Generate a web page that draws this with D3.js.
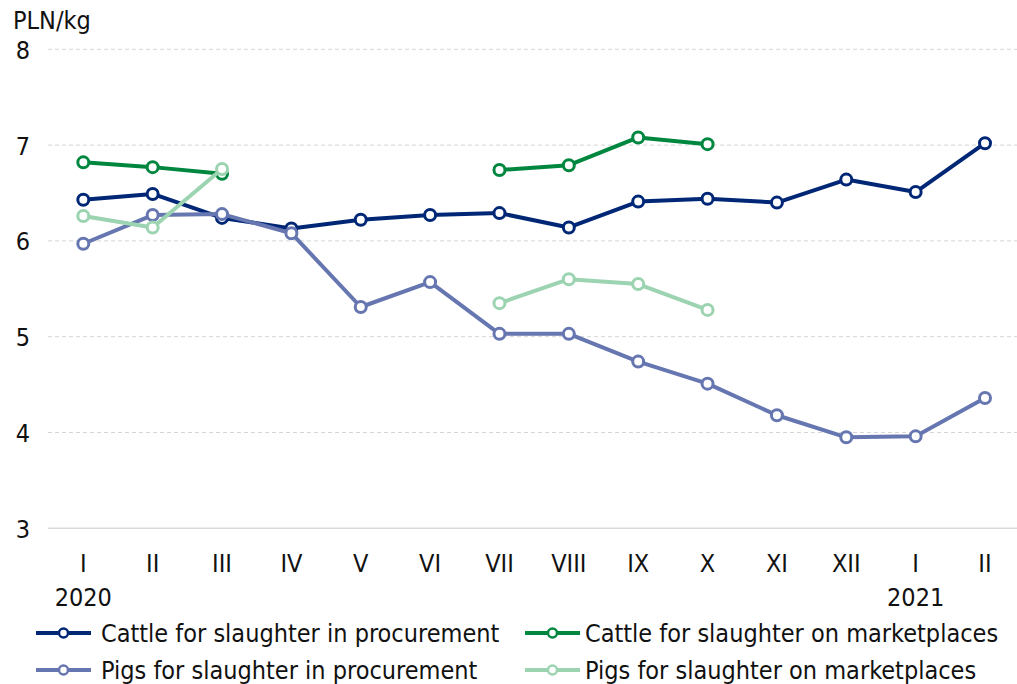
<!DOCTYPE html>
<html>
<head>
<meta charset="utf-8">
<script src="https://cdn.jsdelivr.net/npm/d3@7"></script>
<style>
  html, body { margin: 0; padding: 0; background: #fff; }
  svg text { font-family: "DejaVu Sans Condensed", "Liberation Sans Narrow", sans-serif; fill: #111; }
</style>
</head>
<body>
<svg id="chart" width="1017" height="684"></svg>
<script>
const months = ["I","II","III","IV","V","VI","VII","VIII","IX","X","XI","XII","I","II"];
const yearLabels = [{idx: 0, text: "2020"}, {idx: 12, text: "2021"}];
const yTicks = [3, 4, 5, 6, 7, 8];
const unitLabel = "PLN/kg";

const seriesNames = [
  "Cattle for slaughter in procurement",
  "Cattle for slaughter on marketplaces",
  "Pigs for slaughter in procurement",
  "Pigs for slaughter on marketplaces"
];
const cattleProcurement = [6.43, 6.49, 6.24, 6.13, 6.22, 6.27, 6.29, 6.14, 6.41, 6.44, 6.40, 6.64, 6.51, 7.02];
const cattleMarketplaces = [6.82, 6.77, 6.70, null, null, null, 6.74, 6.79, 7.08, 7.01, null, null, null, null];
const pigsProcurement = [5.97, 6.27, 6.28, 6.08, 5.31, 5.57, 5.03, 5.03, 4.74, 4.51, 4.18, 3.95, 3.96, 4.36];
const pigsMarketplaces = [6.26, 6.14, 6.75, null, null, null, 5.35, 5.60, 5.55, 5.28, null, null, null, null];
const colors = ["#002776", "#00873F", "#6676B0", "#9CD3B0"];

const allSeries = [cattleProcurement, cattleMarketplaces, pigsProcurement, pigsMarketplaces];

const svg = d3.select("#chart");
const idx = d3.range(months.length);
const x = d3.scalePoint().domain(idx).range([83.3, 985]);
const y = d3.scaleLinear().domain([3, 8]).range([528.3, 49.3]);
const plotLeft = 48, plotRight = 1017;
const fs = 25;

// gridlines
svg.append("g").selectAll("line").data(yTicks.filter(t => t !== 3)).join("line")
  .attr("x1", plotLeft).attr("x2", plotRight)
  .attr("y1", d => y(d)).attr("y2", d => y(d))
  .attr("stroke", "#d6d6d6").attr("stroke-width", 1).attr("stroke-dasharray", "4,3");
// base axis
svg.append("line").attr("x1", plotLeft).attr("x2", plotRight)
  .attr("y1", y(3)).attr("y2", y(3)).attr("stroke", "#d9d9d9").attr("stroke-width", 1.5);

// y tick labels
svg.append("g").selectAll("text").data(yTicks).join("text")
  .attr("x", 30).attr("y", d => y(d)).attr("dy", "0.38em")
  .attr("text-anchor", "end").attr("font-size", fs).text(d => d);
svg.append("text").attr("x", 13).attr("y", 29).attr("font-size", fs).text(unitLabel);

// x labels
svg.append("g").selectAll("text").data(idx).join("text")
  .attr("x", d => x(d)).attr("y", 572).attr("text-anchor", "middle")
  .attr("font-size", fs).text(d => months[d]);
svg.append("g").selectAll("text").data(yearLabels).join("text")
  .attr("x", d => x(d.idx)).attr("y", 606).attr("text-anchor", "middle")
  .attr("font-size", fs).text(d => d.text);

// lines
const line = d3.line().defined(d => d.v !== null).x(d => x(d.i)).y(d => y(d.v));
allSeries.forEach((s, k) => {
  const pts = s.map((v, i) => ({i, v}));
  const g = svg.append("g");
  g.append("path").datum(pts).attr("d", line).attr("fill", "none")
    .attr("stroke", colors[k]).attr("stroke-width", 4).attr("stroke-linejoin", "round");
  g.selectAll("circle").data(pts.filter(d => d.v !== null)).join("circle")
    .attr("cx", d => x(d.i)).attr("cy", d => y(d.v)).attr("r", 5.5)
    .attr("fill", "#fff").attr("stroke", colors[k]).attr("stroke-width", 3);
});

// legend
const legendPos = [[36, 633, 65], [525, 633, 60], [36, 670, 65], [525, 670, 60]];
seriesNames.forEach((name, k) => {
  const [lx, ly, tx] = legendPos[k];
  const g = svg.append("g");
  g.append("line").attr("x1", lx).attr("x2", lx + 55).attr("y1", ly).attr("y2", ly)
    .attr("stroke", colors[k]).attr("stroke-width", 4);
  g.append("circle").attr("cx", lx + 27.5).attr("cy", ly).attr("r", 4.5)
    .attr("fill", "#fff").attr("stroke", colors[k]).attr("stroke-width", 2.5);
  g.append("text").attr("x", lx + tx).attr("y", ly).attr("dy", "0.36em")
    .attr("font-size", fs).text(name);
});
</script>
</body>
</html>
